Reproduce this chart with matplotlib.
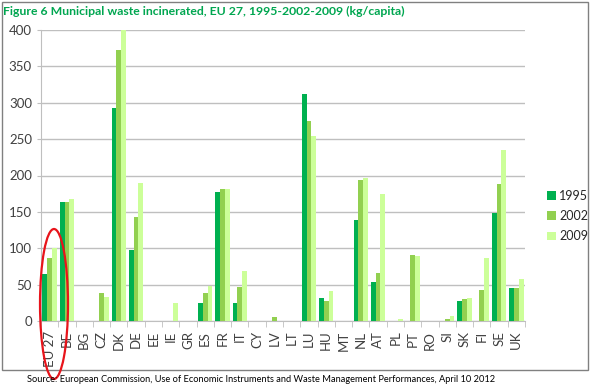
import matplotlib
matplotlib.use('Agg')
import matplotlib.pyplot as plt
from matplotlib.patches import Rectangle, Ellipse
import numpy as np

countries = ['EU 27', 'BE', 'BG', 'CZ', 'DK', 'DE', 'EE', 'IE', 'GR', 'ES', 'FR', 'IT', 'CY', 'LV',
             'LT', 'LU', 'HU', 'MT', 'NL', 'AT', 'PL', 'PT', 'RO', 'SI', 'SK', 'FI', 'SE', 'UK']
years = ['1995', '2002', '2009']
v1995 = [65, 163, 0, 0, 293, 97, 0, 0, 0, 25, 178, 25, 0, 0,
         0, 312, 32, 0, 139, 54, 0, 0, 0, 0, 28, 0, 149, 45]
v2002 = [86, 163, 0, 39, 373, 143, 0, 0, 0, 38, 181, 47, 0, 5,
         0, 275, 27, 0, 194, 66, 0, 91, 0, 3, 30, 42, 188, 45]
v2009 = [101, 168, 0, 33, 400, 190, 0, 25, 0, 48, 181, 69, 0, 0,
         0, 254, 41, 0, 196, 175, 3, 90, 0, 7, 31, 87, 235, 58]
colors = ['#00B050', '#92D050', '#CCFF99']

plt.rcParams['font.family'] = ['Lato', 'DejaVu Sans']

fig = plt.figure(figsize=(5.91, 3.87), dpi=100)
ax = fig.add_axes([41 / 591, 1 - 321 / 387, (525 - 41) / 591, (321 - 30) / 387])

x = np.arange(len(countries))
w = 0.28
for k, (vals, c, lab) in enumerate(zip([v1995, v2002, v2009], colors, years)):
    ax.bar(x + (k - 1) * w, vals, width=w, color=c, label=lab, zorder=3)

ax.set_xlim(-0.5, len(countries) - 0.5)
ax.set_ylim(0, 400)
ax.set_yticks(range(0, 401, 50))
ax.yaxis.grid(True, color='#BFBFBF', lw=1, zorder=0)
ax.set_xticks(x)
ax.set_xticklabels(countries, rotation=90, fontsize=9.5, color='#404040')
ax.set_xticks(np.arange(-0.5, len(countries), 1), minor=True)
ax.tick_params(axis='x', which='major', length=0, pad=7)
ax.tick_params(axis='x', which='minor', length=4, color='#BFBFBF')
ax.tick_params(axis='y', labelsize=9.5, labelcolor='#404040', length=3, color='#BFBFBF')
for s in ['top', 'right']:
    ax.spines[s].set_visible(False)
ax.spines['left'].set_color('#BFBFBF')
ax.spines['bottom'].set_color('#BFBFBF')

ax.legend(loc='center left', bbox_to_anchor=(1.045, 0.36), frameon=False, fontsize=9,
          handlelength=0.7, handleheight=0.7, handletextpad=0.3, labelspacing=0.65,
          labelcolor='#262626', borderpad=0, borderaxespad=0)

fig.text(3 / 591, 1 - 11 / 387, 'Figure 6 Municipal waste incinerated, EU 27, 1995-2002-2009 (kg/capita)',
         color='#00A650', fontsize=8.8, fontweight='bold', va='center', ha='left')
fig.text(261 / 591, 1 - 380 / 387,
         'Source: European Commission, Use of Economic Instruments and Waste Management Performances, April 10 2012',
         fontsize=6.7, va='center', ha='center')

fig.patches.append(Rectangle((2 / 591, 1 - 370 / 387), 586 / 591, 368 / 387, transform=fig.transFigure,
                             fill=False, edgecolor='#808080', lw=1))
fig.patches.append(Ellipse((54 / 591, 1 - 304 / 387), 28 / 591, 150 / 387, transform=fig.transFigure,
                           fill=False, edgecolor='#E8141B', lw=1.6))

fig.savefig('out.png', dpi=100)
